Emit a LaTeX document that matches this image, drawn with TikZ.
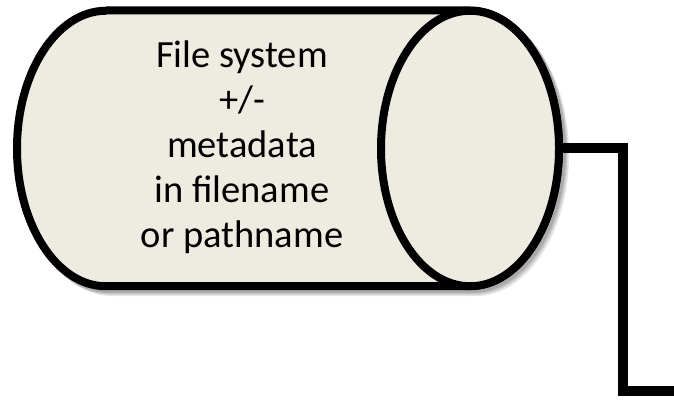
\documentclass[tikz,border=0pt]{standalone}
\usepackage{fontspec}
\setmainfont{Carlito}
\definecolor{cylfill}{HTML}{EEECE1}
\begin{document}
\begin{tikzpicture}[x=1pt,y=1pt,
  outline/.style={line width=8pt,line join=round},
  conn/.style={line width=10pt,line join=miter},
  shade/.style={fill=black,opacity=0.18}]
\useasboundingbox (0,0) rectangle (674,399);
% connector
\coordinate (cylE) at (555,250.5);
\coordinate (bend) at (623,250.5);
\coordinate (endpt) at (680,8);
\draw[black!30,line width=10pt,opacity=0.6,shift={(2,-2)}] (cylE) -- (bend) |- (endpt);
\draw[conn] (cylE) -- (bend) |- (endpt);
% shadow of cylinder
\foreach \d/\o in {6/0.10,4.5/0.12,3/0.15}{
\fill[black,opacity=\o,shift={(\d,-\d)}] (106,392.5) -- (470,392.5) arc[start angle=90,end angle=-90,x radius=93,y radius=141.75] -- (106,109) arc[start angle=270,end angle=90,x radius=93,y radius=141.75] -- cycle;
}
% body
\draw[outline,fill=cylfill] (106,388.5) -- (470,388.5) arc[start angle=90,end angle=-90,x radius=89,y radius=137.75] -- (106,112.75) arc[start angle=270,end angle=90,x radius=89,y radius=137.75] -- cycle;
% front ellipse
\draw[outline,fill=cylfill] (470,250.5) ellipse[x radius=89,y radius=137.75];
\node[align=center,font=\fontsize{38.5}{45}\selectfont,inner sep=0pt] (label) at (242,252) {File system\\+/-\\metadata\\in filename\\or pathname};
\end{tikzpicture}
\end{document}
